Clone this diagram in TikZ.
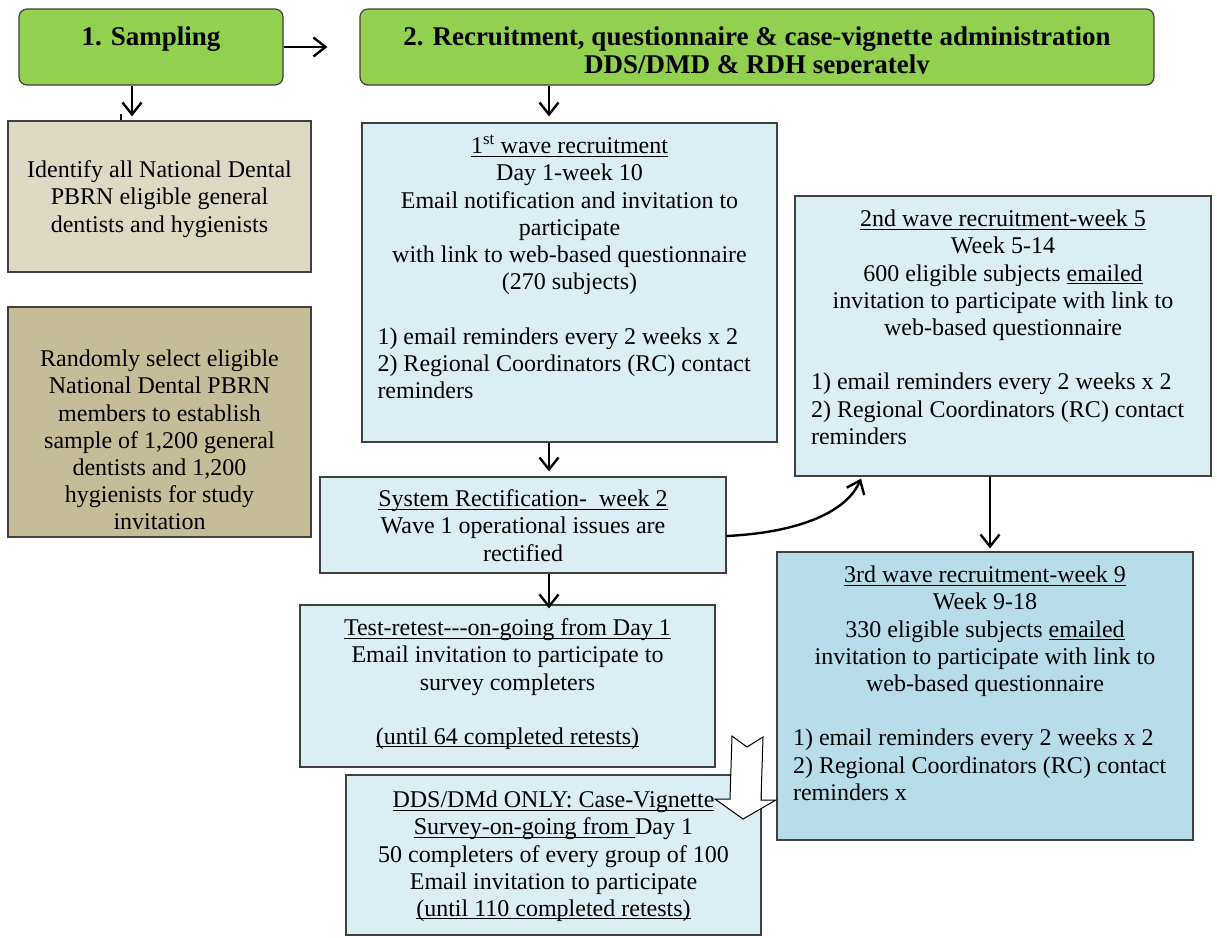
\documentclass[tikz,border=0pt]{standalone}
\usepackage{fontspec}
\setmainfont{Liberation Serif}
\usetikzlibrary{arrows.meta}
\definecolor{grn}{HTML}{92D050}
\definecolor{tanA}{HTML}{DDD9C3}
\definecolor{tanB}{HTML}{C4BD97}
\definecolor{lblue}{HTML}{DAEEF3}
\definecolor{mblue}{HTML}{B7DEE8}
\definecolor{bordc}{HTML}{404040}
\newcommand{\lft}[1]{\makebox[384pt][l]{#1}}
\newsavebox{\ulbox}
\newcommand{\myul}[1]{\sbox{\ulbox}{#1}\rlap{\rule[-3pt]{\wd\ulbox}{1.1pt}}\usebox{\ulbox}}
\tikzset{
  box/.style={draw=bordc, line width=1.2pt, inner sep=0pt, anchor=center},
  gbox/.style={box, fill=grn, rounded corners=8pt},
  txt/.style={inner sep=0pt, align=center, font=\fontsize{24}{27.2}\selectfont, anchor=north},
  ttl/.style={inner sep=0pt, align=center, font=\bfseries\fontsize{27}{28}\selectfont},
  arr/.style={draw=black, line width=2.4pt, -{Straight Barb[length=12pt,width=19pt]}},
}
\begin{document}
\begin{tikzpicture}[x=1pt,y=-1pt]
\useasboundingbox (0,0) rectangle (1217,937);
\fill[white] (0,0) rectangle (1217,937);
% boxes
\node[gbox, minimum width=264pt, minimum height=76pt] (samp) at (151,47) {};
\node[gbox, minimum width=794pt, minimum height=76pt] (b2) at (757,47) {};
\node[box, fill=tanA, minimum width=303pt, minimum height=151pt] (ident) at (159.5,196.5) {};
\node[box, fill=tanB, minimum width=303pt, minimum height=230pt] (rand) at (159.5,422) {};
\node[box, fill=lblue, minimum width=415pt, minimum height=319pt] (w1) at (569.5,282.5) {};
\node[box, fill=lblue, minimum width=406pt, minimum height=96pt] (sr) at (523,525) {};
\node[box, fill=lblue, minimum width=415pt, minimum height=162pt] (tr) at (507.5,686) {};
\node[box, fill=lblue, minimum width=415pt, minimum height=160pt] (dds) at (553.5,855) {};
\node[box, fill=lblue, minimum width=416pt, minimum height=280pt] (w2) at (1003,336) {};
\node[box, fill=mblue, minimum width=416pt, minimum height=288pt] (w3) at (985,696) {};
% titles
\node[ttl, anchor=base] (sampt) at ([yshift=2pt]samp.center) {1. Sampling};
\begin{scope}
\clip (360,9) rectangle (1154,73);
\node[ttl, anchor=north] (b2t) at ([yshift=-17pt]b2.north) {\strut 2. Recruitment, questionnaire \& case-vignette administration\\ DDS/DMD \& RDH seperately};
\end{scope}
% texts
\node[txt] (identt) at ([yshift=-38pt]ident.north) {\strut Identify all National Dental\\ PBRN eligible general\\ dentists and hygienists};
\node[txt] (randt) at ([yshift=-41pt]rand.north) {\strut Randomly select eligible\\ National Dental PBRN\\ members to establish\\ sample of 1,200 general\\ dentists and 1,200\\ hygienists for study\\ invitation};
\node[txt] (w1t) at ([yshift=-12pt]w1.north) {\strut\myul{1\textsuperscript{st} wave recruitment}\\ Day 1-week 10\\ Email notification and invitation to\\ participate\\ with link to web-based questionnaire\\ (270 subjects)\\ \mbox{}\\ \lft{1) email reminders every 2 weeks x 2}\\ \lft{2) Regional Coordinators (RC) contact}\\ \lft{reminders}};
\node[txt] (srt) at ([yshift=-11pt]sr.north) {\strut\myul{System Rectification-\ \ week 2}\\ Wave 1 operational issues are\\ rectified};
\node[txt] (trt) at ([yshift=-12pt]tr.north) {\strut\myul{Test-retest-{}-{}-on-going from Day 1}\\ Email invitation to participate to\\ survey completers\\ \mbox{}\\ \myul{(until 64 completed retests)}};
\node[txt] (ddst) at ([yshift=-14pt]dds.north) {\strut\myul{DDS/DMd ONLY: Case-Vignette}\\ \myul{Survey-on-going from\ }Day 1\\ 50 completers of every group of 100\\ Email invitation to participate\\ \myul{(until 110 completed retests)}};
\node[txt] (w2t) at ([yshift=-12pt]w2.north) {\strut\myul{2nd wave recruitment-week 5}\\ Week 5-14\\ 600 eligible subjects \myul{emailed}\\ invitation to participate with link to\\ web-based questionnaire\\ \mbox{}\\ \lft{1) email reminders every 2 weeks x 2}\\ \lft{2) Regional Coordinators (RC) contact}\\ \lft{reminders}};
\node[txt] (w3t) at ([yshift=-12pt]w3.north) {\strut\myul{3rd wave recruitment-week 9}\\ Week 9-18\\ 330 eligible subjects \myul{emailed}\\ invitation to participate with link to\\ web-based questionnaire\\ \mbox{}\\ \lft{1) email reminders every 2 weeks x 2}\\ \lft{2) Regional Coordinators (RC) contact}\\ \lft{reminders x}};
% connectors
\draw[arr] (samp.east) -- ([xshift=-32pt]b2.west);
\draw[arr] ([xshift=-19pt]samp.south) -- ([xshift=-19pt,yshift=4pt]samp.south |- ident.north);
\draw[line width=1.5pt] (121,114) -- (121,120);
\draw[arr] ([xshift=-208pt]b2.south) -- ([xshift=-208pt,yshift=6pt]b2.south |- w1.north);
\draw[arr] ([xshift=-20.5pt]w1.south) -- ([xshift=-20.5pt,yshift=5pt]w1.south |- sr.north);
\draw[arr] ([xshift=26pt]sr.south) -- ([xshift=26pt,yshift=-4pt]sr.south |- tr.north);
\draw[arr] ([xshift=-13pt]w2.south) -- ([xshift=-13pt,yshift=3pt]w2.south |- w3.north);
\draw[arr] ([yshift=-11pt]sr.east) .. controls ([xshift=64pt,yshift=-8pt]sr.east) and ([xshift=-158pt,yshift=-39pt]w2.south) .. ([xshift=-142pt,yshift=-2pt]w2.south);
% block arrow
\draw[fill=white, line width=1pt, line join=miter] (732,736) -- (747,747) -- (763,737) -- (761,800) -- (776,800) -- (743,819) -- (715,799) -- (730,799) -- cycle;
\end{tikzpicture}
\end{document}
